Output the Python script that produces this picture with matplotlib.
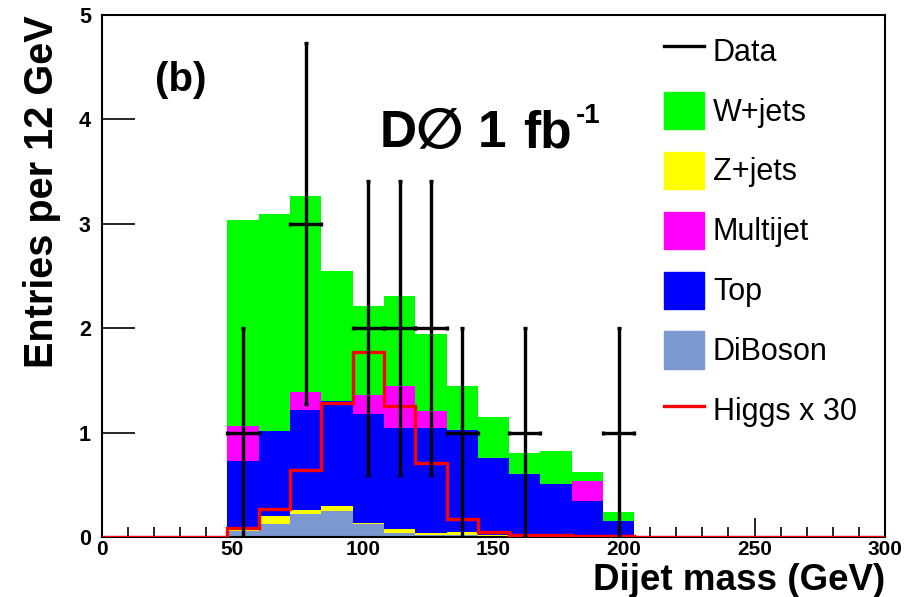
import numpy as np
import matplotlib
matplotlib.use("Agg")
import matplotlib.pyplot as plt
from matplotlib.patches import Patch
from matplotlib.lines import Line2D

plt.rcParams['font.family'] = ['Liberation Sans', 'DejaVu Sans']

# 12 GeV bins from 48 to 204 GeV
bin_edges = [48, 60, 72, 84, 96, 108, 120, 132, 144, 156, 168, 180, 192, 204]

# Background contributions per bin (stacked bottom -> top)
diboson  = [0.06, 0.12, 0.22, 0.25, 0.12, 0.04, 0.02, 0.02, 0.01, 0.01, 0.01, 0.005, 0.005]
zjets    = [0.04, 0.08, 0.04, 0.05, 0.01, 0.035, 0.015, 0.025, 0.01, 0.005, 0.005, 0.005, 0.005]
top      = [0.63, 0.82, 0.96, 1.00, 1.05, 0.97, 1.01, 0.98, 0.74, 0.59, 0.49, 0.335, 0.146]
multijet = [0.335, 0.0, 0.17, 0.0, 0.176, 0.405, 0.16, 0.0, 0.0, 0.0, 0.0, 0.19, 0.0]
wjets    = [1.967, 2.07, 1.88, 1.25, 0.86, 0.86, 0.735, 0.42, 0.39, 0.195, 0.32, 0.09, 0.084]

# Signal (x30) over the full mass range, 25 bins of 12 GeV
higgs_edges = list(range(0, 301, 12))
higgs = [0, 0, 0, 0,
         0.083, 0.265, 0.64, 1.28, 1.772, 1.255, 0.706, 0.17, 0.045, 0.02, 0.015, 0.01, 0.005,
         0, 0, 0, 0, 0, 0, 0, 0]

# Observed data
data_x = [54, 78, 102, 114, 126, 138, 162, 198]
data_y = [1, 3, 2, 2, 2, 1, 1, 1]
data_err = [1.0, 1.73, 1.41, 1.41, 1.41, 1.0, 1.0, 1.0]

labels = ["Data", "W+jets", "Z+jets", "Multijet", "Top", "DiBoson", "Higgs x 30"]
colors = {"W+jets": "#00ff00", "Z+jets": "#ffff00", "Multijet": "#ff00ff",
          "Top": "#0000ff", "DiBoson": "#7b99d0"}

W, H = 920, 597


def fx(px):
    return px / W


def fy(py):
    return 1 - py / H


fig = plt.figure(figsize=(9.2, 5.97), dpi=100)
ax = fig.add_axes([fx(102), fy(537), (885 - 102) / W, (537 - 15) / H])

base = np.zeros(len(bin_edges) - 1)
for name, vals in [("DiBoson", diboson), ("Z+jets", zjets), ("Top", top),
                   ("Multijet", multijet), ("W+jets", wjets)]:
    vals = np.asarray(vals, dtype=float)
    ax.stairs(base + vals, bin_edges, baseline=base, fill=True,
              color=colors[name], lw=0, zorder=2)
    base = base + vals

ax.stairs(higgs, higgs_edges, color="#ff0000", lw=2.4, zorder=4, baseline=None)

ax.errorbar(data_x, data_y, yerr=data_err, xerr=6, fmt="none", ecolor="black",
            elinewidth=2.4, capsize=1.5, capthick=2.4, zorder=5)

ax.set_xlim(0, 300)
ax.set_ylim(0, 5)
ax.set_xticks([0, 50, 100, 150, 200, 250, 300])
ax.set_xticks(np.arange(0, 301, 10), minor=True)
ax.set_yticks([0, 1, 2, 3, 4, 5])
ax.tick_params(axis="x", which="major", direction="in", length=14, width=1.2,
               labelsize=15, pad=2)
ax.tick_params(axis="x", which="minor", direction="in", length=7, width=1.2)
ax.tick_params(axis="y", which="major", direction="in", length=24, width=1.2,
               labelsize=15.5, pad=8)
for lab in ax.get_xticklabels() + ax.get_yticklabels():
    lab.set_fontweight("bold")
for sp in ax.spines.values():
    sp.set_linewidth(1.5)

fig.text(fx(885), fy(590), "Dijet mass (GeV)", fontsize=26.5, fontweight="bold",
         ha="right", va="baseline")
fig.text(fx(42), fy(15), "Entries per 12 GeV", fontsize=28.5, fontweight="bold",
         rotation=90, ha="center", va="top")

fig.text(fx(181), fy(80), "(b)", fontsize=29, fontweight="bold",
         ha="center", va="center")

# Experiment / luminosity tag
fig.text(fx(380), fy(134), "D", fontsize=37, fontweight="bold", ha="left", va="center")
fig.text(fx(439), fy(133), "\u2205", fontsize=40, fontweight="bold",
         family="DejaVu Sans", ha="center", va="center")
fig.text(fx(478), fy(134), "1", fontsize=37, fontweight="bold", ha="left", va="center")
fig.text(fx(523), fy(134), "fb", fontsize=37, fontweight="bold", ha="left", va="center")
fig.text(fx(576), fy(116), "-1", fontsize=20, fontweight="bold", ha="left", va="center")

handles = [Line2D([], [], color="black", lw=2.4)]
for name in ["W+jets", "Z+jets", "Multijet", "Top", "DiBoson"]:
    handles.append(Patch(facecolor=colors[name], edgecolor=colors[name]))
handles.append(Line2D([], [], color="#ff0000", lw=2.4))
leg = ax.legend(handles, labels, loc="upper left",
                bbox_to_anchor=((664 - 102) / 783, (537 - 32) / 522),
                frameon=False, fontsize=22, handlelength=1.3, handleheight=1.5,
                handletextpad=0.3, labelspacing=0.74, borderpad=0, borderaxespad=0)

fig.savefig("out.png", dpi=100)
